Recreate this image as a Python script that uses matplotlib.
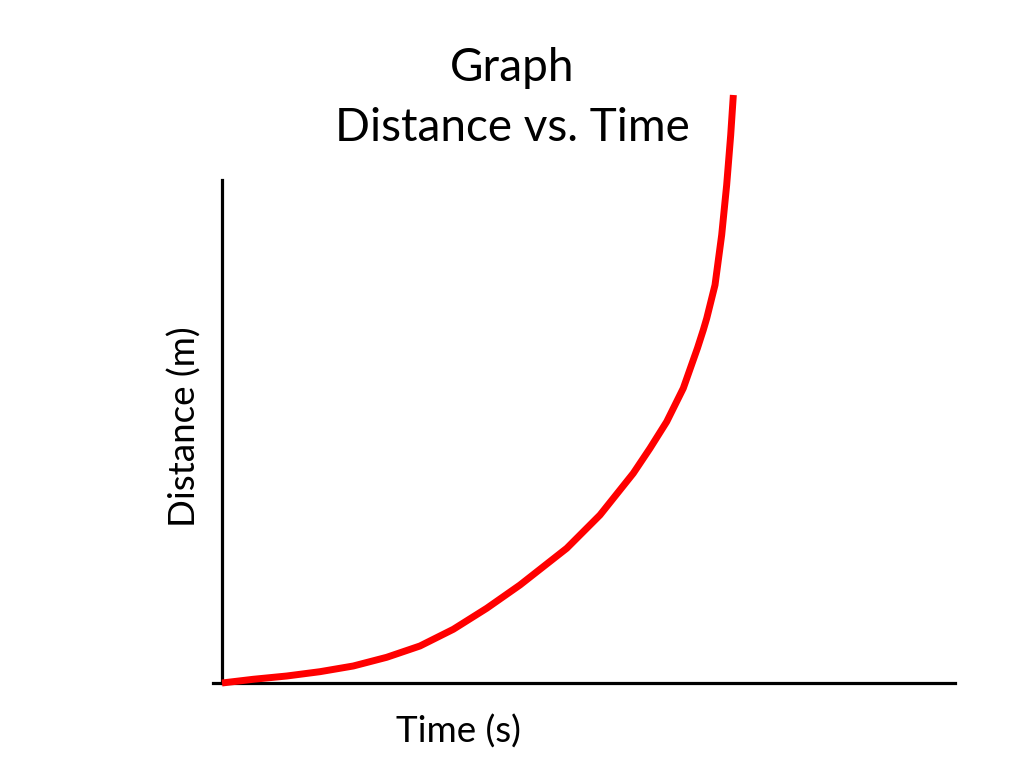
import matplotlib.pyplot as plt
import numpy as np

# curve (axis units: x 0..10, y 0..10)
time = [0, 0.427, 0.883, 1.337, 1.791, 2.247, 2.701, 3.156, 3.611, 4.065,
        4.703, 5.157, 5.611, 5.839, 6.067, 6.293, 6.487, 6.566, 6.613, 6.726,
        6.817, 6.885, 6.940, 6.976]
distance = [0, 0.074, 0.139, 0.225, 0.338, 0.511, 0.736, 1.068, 1.485, 1.948,
            2.678, 3.340, 4.169, 4.666, 5.195, 5.859, 6.660, 7.018, 7.251, 7.913,
            8.907, 9.901, 10.895, 11.690]

title_lines = ['Graph', 'Distance vs. Time']
xlabel = 'Time (s)'
ylabel = 'Distance (m)'

plt.rcParams['font.family'] = ['Lato', 'DejaVu Sans']

fig = plt.figure(figsize=(10.24, 7.68), dpi=100)
ax = fig.add_axes([213 / 1024, 85 / 768, (955 - 213) / 1024, (683 - 180) / 768])

ax.plot(time, distance, color='#ff0000', linewidth=5, clip_on=False,
        solid_capstyle='butt', solid_joinstyle='round', zorder=3)

ax.set_xlim(-9 / 73.3, 10)
ax.set_ylim(0, 10)
ax.spines['top'].set_visible(False)
ax.spines['right'].set_visible(False)
ax.spines['left'].set_position(('data', 0))
ax.spines['left'].set_linewidth(2.3)
ax.spines['bottom'].set_linewidth(2.3)
ax.set_xticks([])
ax.set_yticks([])

fig.text(512 / 1024, 1 - 68 / 768, title_lines[0], ha='center', va='center', fontsize=33)
fig.text(512 / 1024, 1 - 128 / 768, title_lines[1], ha='center', va='center', fontsize=33)
fig.text(458 / 1024, 1 - 732 / 768, xlabel, ha='center', va='center', fontsize=26.5)
fig.text(185 / 1024, 1 - 427 / 768, ylabel, ha='center', va='center', fontsize=26.5,
         rotation=90)

plt.savefig('out.png', dpi=100)
